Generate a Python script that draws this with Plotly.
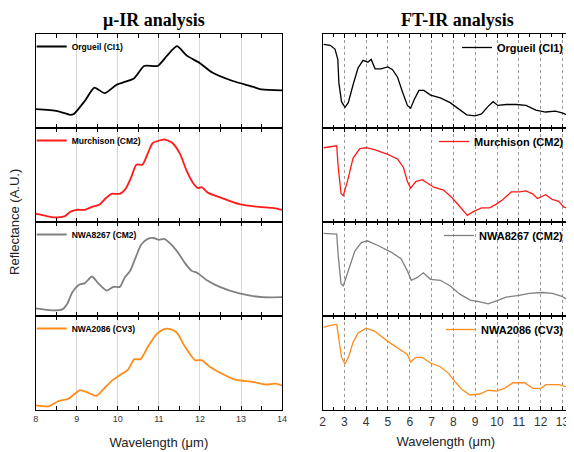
import plotly.graph_objects as go

# ---------------- data (normalised reflectance, each panel 0..1) ----------------
names = ["Orgueil (CI1)", "Murchison (CM2)", "NWA8267 (CM2)", "NWA2086 (CV3)"]
colors = ["#000000", "#ff1a1a", "#808080", "#ff8c1a"]

# mu-IR (left column)
mu_orgueil_x = [8.0, 8.53, 8.84, 8.93, 9.2, 9.43, 9.68, 9.97, 10.4, 10.64, 10.97, 11.2, 11.44, 11.68, 12.0, 12.3, 12.8, 13.28, 13.5, 14.0]
mu_orgueil_y = [0.20, 0.18, 0.14, 0.15, 0.29, 0.43, 0.37, 0.46, 0.53, 0.66, 0.66, 0.77, 0.87, 0.77, 0.69, 0.59, 0.50, 0.44, 0.41, 0.40]

mu_murchison_x = [8.0, 8.45, 8.7, 8.85, 9.0, 9.2, 9.37, 9.57, 9.7, 9.85, 10.05, 10.2, 10.33, 10.45, 10.6, 10.73, 10.85, 11.04, 11.13, 11.33, 11.52, 11.68, 11.84, 11.95, 12.04, 12.2, 12.5, 12.96, 13.44, 13.76, 14.0]
mu_murchison_y = [0.09, 0.05, 0.06, 0.11, 0.13, 0.13, 0.16, 0.19, 0.25, 0.30, 0.30, 0.36, 0.48, 0.61, 0.61, 0.73, 0.84, 0.87, 0.88, 0.84, 0.72, 0.54, 0.41, 0.36, 0.37, 0.31, 0.26, 0.19, 0.16, 0.15, 0.13]

mu_nwa8267_x = [8.0, 8.4, 8.65, 8.77, 8.89, 9.05, 9.2, 9.37, 9.52, 9.73, 9.89, 10.05, 10.17, 10.3, 10.45, 10.57, 10.73, 10.87, 11.0, 11.13, 11.28, 11.44, 11.64, 11.8, 11.93, 12.17, 12.48, 12.96, 13.52, 14.0]
mu_nwa8267_y = [0.08, 0.06, 0.07, 0.13, 0.25, 0.33, 0.35, 0.42, 0.35, 0.27, 0.31, 0.31, 0.41, 0.48, 0.64, 0.76, 0.82, 0.83, 0.81, 0.82, 0.77, 0.69, 0.56, 0.48, 0.46, 0.38, 0.31, 0.24, 0.20, 0.20]

mu_nwa2086_x = [8.0, 8.33, 8.53, 8.8, 8.92, 9.07, 9.25, 9.48, 9.65, 9.85, 10.08, 10.25, 10.4, 10.55, 10.73, 10.93, 11.13, 11.28, 11.44, 11.64, 11.88, 12.04, 12.24, 12.56, 12.88, 13.28, 13.6, 13.84, 14.0]
mu_nwa2086_y = [0.05, 0.04, 0.09, 0.12, 0.16, 0.21, 0.19, 0.15, 0.22, 0.31, 0.38, 0.43, 0.54, 0.54, 0.67, 0.80, 0.86, 0.86, 0.82, 0.67, 0.53, 0.53, 0.46, 0.38, 0.32, 0.30, 0.27, 0.28, 0.26]

# FT-IR (right column)
ft_orgueil_x = [2.05, 2.35, 2.57, 2.7, 2.75, 2.87, 3.03, 3.18, 3.4, 3.63, 3.86, 4.08, 4.23, 4.41, 4.68, 4.99, 5.21, 5.44, 5.67, 5.89, 6.04, 6.2, 6.42, 6.65, 6.95, 7.4, 7.85, 8.3, 8.61, 9.0, 9.29, 9.59, 9.82, 10.04, 10.42, 10.87, 11.33, 11.78, 12.23, 12.68, 12.98, 13.3]
ft_orgueil_y = [0.89, 0.88, 0.84, 0.73, 0.48, 0.28, 0.22, 0.27, 0.46, 0.64, 0.72, 0.70, 0.73, 0.63, 0.63, 0.65, 0.62, 0.54, 0.38, 0.24, 0.21, 0.30, 0.40, 0.40, 0.35, 0.32, 0.27, 0.19, 0.14, 0.13, 0.15, 0.23, 0.28, 0.24, 0.25, 0.25, 0.24, 0.19, 0.17, 0.18, 0.16, 0.13]

ft_murchison_x = [2.05, 2.65, 2.72, 2.85, 2.95, 3.15, 3.4, 3.71, 4.0, 4.38, 4.99, 5.44, 5.71, 5.89, 6.04, 6.27, 6.57, 6.88, 7.1, 7.55, 7.93, 8.31, 8.64, 8.91, 9.29, 9.66, 9.97, 10.27, 10.65, 11.02, 11.33, 11.63, 11.86, 12.23, 12.53, 12.83, 13.05, 13.3]
ft_murchison_y = [0.79, 0.81, 0.58, 0.30, 0.28, 0.44, 0.68, 0.78, 0.79, 0.77, 0.72, 0.67, 0.58, 0.43, 0.36, 0.43, 0.45, 0.40, 0.37, 0.34, 0.26, 0.16, 0.07, 0.11, 0.15, 0.15, 0.19, 0.24, 0.32, 0.32, 0.33, 0.30, 0.25, 0.29, 0.24, 0.22, 0.16, 0.14]

ft_nwa8267_x = [2.05, 2.65, 2.72, 2.85, 2.95, 3.18, 3.48, 3.78, 4.05, 4.54, 5.14, 5.6, 5.89, 6.07, 6.35, 6.62, 6.95, 7.4, 7.86, 8.31, 8.77, 9.22, 9.59, 9.97, 10.42, 11.02, 11.48, 12.08, 12.53, 12.98, 13.3]
ft_nwa8267_y = [0.88, 0.87, 0.64, 0.34, 0.32, 0.48, 0.69, 0.78, 0.80, 0.75, 0.68, 0.61, 0.48, 0.38, 0.41, 0.46, 0.39, 0.38, 0.32, 0.23, 0.17, 0.15, 0.13, 0.16, 0.20, 0.22, 0.24, 0.25, 0.24, 0.21, 0.16]

ft_nwa2086_x = [2.05, 2.35, 2.65, 2.75, 2.87, 3.03, 3.2, 3.4, 3.63, 4.0, 4.38, 4.99, 5.44, 5.74, 5.89, 6.04, 6.27, 6.57, 6.95, 7.4, 7.78, 8.08, 8.38, 8.76, 9.22, 9.59, 9.97, 10.35, 10.73, 11.26, 11.64, 12.02, 12.24, 12.83, 13.3]
ft_nwa2086_y = [0.88, 0.90, 0.91, 0.75, 0.56, 0.49, 0.57, 0.72, 0.82, 0.87, 0.84, 0.73, 0.66, 0.62, 0.59, 0.51, 0.56, 0.56, 0.50, 0.46, 0.39, 0.30, 0.22, 0.16, 0.17, 0.21, 0.20, 0.23, 0.29, 0.29, 0.23, 0.23, 0.27, 0.27, 0.24]

mu_series = [(mu_orgueil_x, mu_orgueil_y), (mu_murchison_x, mu_murchison_y),
             (mu_nwa8267_x, mu_nwa8267_y), (mu_nwa2086_x, mu_nwa2086_y)]
ft_series = [(ft_orgueil_x, ft_orgueil_y), (ft_murchison_x, ft_murchison_y),
             (ft_nwa8267_x, ft_nwa8267_y), (ft_nwa2086_x, ft_nwa2086_y)]

mu_ticks = [8, 9, 10, 11, 12, 13, 14]
ft_ticks = [2, 3, 4, 5, 6, 7, 8, 9, 10, 11, 12, 13]

# ---------------- layout geometry (page pixels; page body has an 8px margin) ----------------
OFF = 8
W, H = 574 - OFF, 452 - OFF
left_px = (33, 283)
right_px = (324, 574)
top0, ph = 34, 94

def px_x(p):
    return (p - OFF) / W

def px_y(p):
    return 1 - (p - OFF) / H

def yd(i):
    top = top0 + ph * i
    bot = top + ph
    return [px_y(bot), px_y(top)]

fig = go.Figure()
FONT = "Liberation Sans, Arial, sans-serif"

for i in range(4):
    for col in range(2):
        n = i * 2 + col + 1
        ax = "" if n == 1 else str(n)
        xs, ys = (mu_series if col == 0 else ft_series)[i]
        leg = "legend" if n == 1 else f"legend{n}"
        if col == 0:
            line = dict(color=colors[i], width=1.8, shape="spline", smoothing=0.6)
        else:
            line = dict(color=colors[i], width=1.3, shape="linear")
        fig.add_trace(go.Scatter(
            x=xs, y=ys, mode="lines", name=f"<b>{names[i]}</b>", line=line,
            xaxis="x" + ax, yaxis="y" + ax, legend=leg, showlegend=True))

        bottom = (i == 3)
        if col == 0:
            xa = dict(domain=[px_x(left_px[0]), px_x(left_px[1])], range=[8, 14], tickvals=mu_ticks,
                      showgrid=True, gridcolor="#d9d9d9", gridwidth=1,
                      tickfont=dict(size=9, color="#333", family=FONT),
                      minor=dict(dtick=0.5, tick0=8, ticks="inside", ticklen=4, tickcolor="#000"))
        else:
            xa = dict(domain=[px_x(right_px[0]), min(1.0, px_x(right_px[1]))], range=[2, 13.3], tickvals=ft_ticks,
                      showgrid=True, gridcolor="#9a9a9a", gridwidth=1, griddash="dot",
                      tickfont=dict(size=12, color="#333", family=FONT),
                      minor=dict(dtick=0.5, tick0=2, ticks="inside", ticklen=3, tickcolor="#000"))
        xa.update(anchor="y" + ax, showline=True, linecolor="#000", linewidth=1.2,
                  mirror="ticks", ticks="inside", ticklen=4, tickcolor="#000",
                  showticklabels=bottom, zeroline=False)
        if bottom:
            xa["title"] = dict(text="Wavelength (μm)", font=dict(size=13, color="#222", family=FONT),
                               standoff=14 if col == 0 else 9)
        ya = dict(domain=yd(i), range=[0, 1], anchor="x" + ax, showline=True, linecolor="#000",
                  linewidth=1.2, mirror=True, ticks="", showticklabels=False, showgrid=False,
                  zeroline=False)
        fig.layout["xaxis" + ax] = xa
        fig.layout["yaxis" + ax] = ya

        top = top0 + ph * i
        if col == 0:
            lg = dict(x=px_x(29), y=px_y(top - 2), xanchor="left", yanchor="top",
                      font=dict(size=8.5, family=FONT, color="#000"))
        else:
            lg = dict(x=px_x(574), y=px_y(top - 1), xanchor="right", yanchor="top",
                      font=dict(size=11, family=FONT, color="#000"))
        lg.update(bgcolor="rgba(0,0,0,0)", borderwidth=0, itemwidth=30)
        fig.layout[leg] = lg

SERIF = "Liberation Serif, Times New Roman, serif"
fig.add_annotation(text="<b>μ-IR analysis</b>", x=px_x(153), y=px_y(8), xref="paper", yref="paper",
                   xanchor="center", yanchor="top", showarrow=False,
                   font=dict(size=18, family=SERIF, color="#000"))
fig.add_annotation(text="<b>FT-IR analysis</b>", x=px_x(461), y=px_y(8), xref="paper", yref="paper",
                   xanchor="center", yanchor="top", showarrow=False,
                   font=dict(size=18, family=SERIF, color="#000"))
fig.add_annotation(text="Reflectance (A.U.)", x=px_x(12), y=px_y(222), xref="paper", yref="paper",
                   xanchor="center", yanchor="middle", showarrow=False, textangle=-90,
                   font=dict(size=13, family=FONT, color="#222"))

fig.update_layout(width=W, height=H, margin=dict(l=0, r=0, t=0, b=0),
                  paper_bgcolor="white", plot_bgcolor="white")

fig.write_html("out.html")
